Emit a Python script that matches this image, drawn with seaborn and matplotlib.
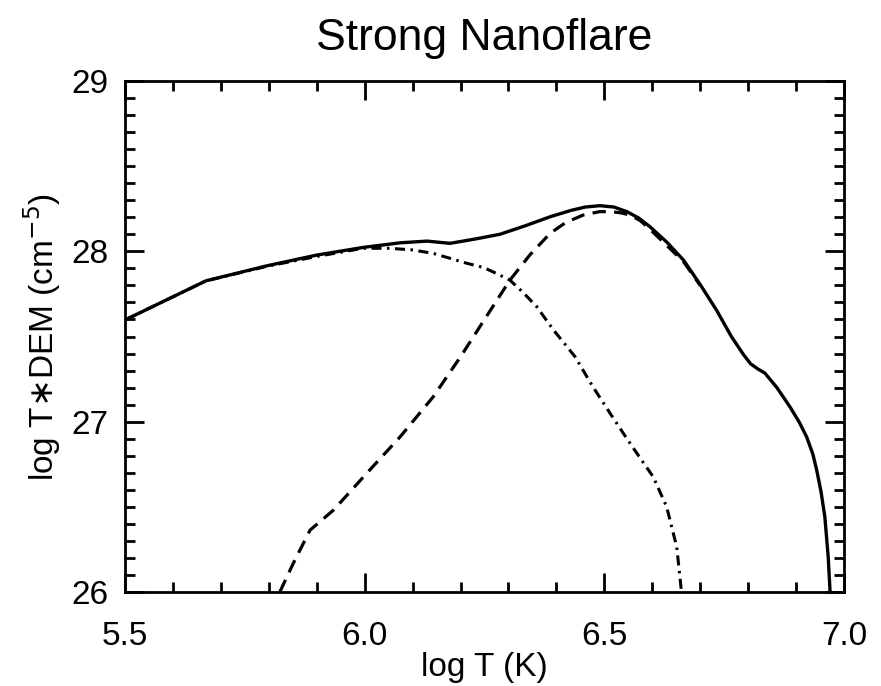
import numpy as np
import pandas as pd
import matplotlib
matplotlib.use("Agg")
import matplotlib.pyplot as plt
import seaborn as sns
from matplotlib.ticker import MultipleLocator

# Total DEM (solid)
total_logT = [5.500, 5.669, 5.796, 5.900, 5.997, 6.074, 6.130, 6.178, 6.230, 6.282, 6.335,
              6.387, 6.430, 6.460, 6.491, 6.520, 6.547, 6.572, 6.595, 6.630, 6.665, 6.700,
              6.734, 6.765, 6.790, 6.805, 6.820, 6.835, 6.860, 6.887, 6.906, 6.922, 6.935, 6.943,
              6.952, 6.960, 6.967, 6.971]
total_dem = [27.597, 27.827, 27.915, 27.978, 28.023, 28.050, 28.060, 28.047, 28.072, 28.100, 28.150,
             28.203, 28.240, 28.260, 28.268, 28.260, 28.233, 28.195, 28.145, 28.055, 27.949, 27.805,
             27.655, 27.500, 27.395, 27.340, 27.310, 27.285, 27.200, 27.088, 27.000, 26.911, 26.810, 26.716,
             26.590, 26.442, 26.207, 26.0]

# Hot component (dashed)
hot_logT = [5.823, 5.851, 5.886, 5.935, 6.004, 6.074, 6.143, 6.200, 6.250, 6.303, 6.345,
            6.387, 6.420, 6.456, 6.490, 6.512, 6.535, 6.554, 6.575, 6.595, 6.630, 6.665, 6.700]
hot_dem = [26.0, 26.168, 26.363, 26.481, 26.696, 26.911, 27.146, 27.381, 27.600, 27.831, 27.980,
           28.106, 28.170, 28.213, 28.233, 28.233, 28.226, 28.213, 28.180, 28.130, 28.035, 27.940, 27.800]

# Cool component (dash-dot)
cool_logT = [5.500, 5.669, 5.796, 5.900, 5.997, 6.053, 6.100, 6.143, 6.178, 6.213, 6.248,
             6.275, 6.303, 6.330, 6.359, 6.394, 6.439, 6.475, 6.512, 6.540, 6.568, 6.602,
             6.630, 6.651, 6.661]
cool_dem = [27.597, 27.827, 27.912, 27.970, 28.018, 28.018, 28.008, 27.988, 27.959, 27.930, 27.905,
            27.870, 27.831, 27.760, 27.675, 27.538, 27.381, 27.210, 27.049, 26.930, 26.814, 26.676,
            26.500, 26.265, 26.0]

x_ticks = [5.5, 6.0, 6.5, 7.0]
y_ticks = [26, 27, 28, 29]

sns.set_style("ticks")
plt.rcParams['font.family'] = ['Liberation Sans', 'DejaVu Sans']
plt.rcParams['text.color'] = 'black'
plt.rcParams['axes.labelcolor'] = 'black'
plt.rcParams['xtick.color'] = 'black'
plt.rcParams['ytick.color'] = 'black'

fig = plt.figure(figsize=(8.81, 6.86), dpi=100)
ax = fig.add_axes([125/881, 1-592/686, (844-125)/881, (592-81)/686])

df_total = pd.DataFrame({"logT": total_logT, "dem": total_dem})
df_hot = pd.DataFrame({"logT": hot_logT, "dem": hot_dem})
df_cool = pd.DataFrame({"logT": cool_logT, "dem": cool_dem})

sns.lineplot(data=df_cool, x="logT", y="dem", ax=ax, color="black", lw=2.2,
             sort=False, estimator=None)
ax.lines[-1].set_dashes([3.3, 1.8, 0.8, 1.8])
sns.lineplot(data=df_hot, x="logT", y="dem", ax=ax, color="black", lw=2.3,
             sort=False, estimator=None)
ax.lines[-1].set_dashes([4.2, 2.6])
sns.lineplot(data=df_total, x="logT", y="dem", ax=ax, color="black", lw=2.4,
             sort=False, estimator=None)

ax.set_xlim(5.5, 7.0)
ax.set_ylim(26, 29)
ax.set_xticks(x_ticks)
ax.set_xticklabels([f"{v:.1f}" for v in x_ticks])
ax.set_yticks(y_ticks)
ax.set_yticklabels([str(v) for v in y_ticks])
ax.xaxis.set_minor_locator(MultipleLocator(0.1))
ax.yaxis.set_minor_locator(MultipleLocator(0.1))
ax.tick_params(which="both", direction="in", top=True, right=True, colors="black", width=2)
ax.tick_params(which="major", length=14, labelsize=24)
ax.tick_params(axis="x", which="major", pad=21)
ax.tick_params(axis="y", which="major", pad=12)
ax.tick_params(which="minor", length=7)
for s in ax.spines.values():
    s.set_linewidth(2)
    s.set_color("black")

ax.set_xlabel("log T (K)", fontsize=24, labelpad=0, color="black")
ax.set_ylabel("log T$\\ast$DEM (cm$^{-5}$)", fontsize=24, labelpad=6, color="black")
ax.set_title("Strong Nanoflare", fontsize=32, pad=22, color="black")

fig.savefig("out.png", dpi=100, facecolor="white")
